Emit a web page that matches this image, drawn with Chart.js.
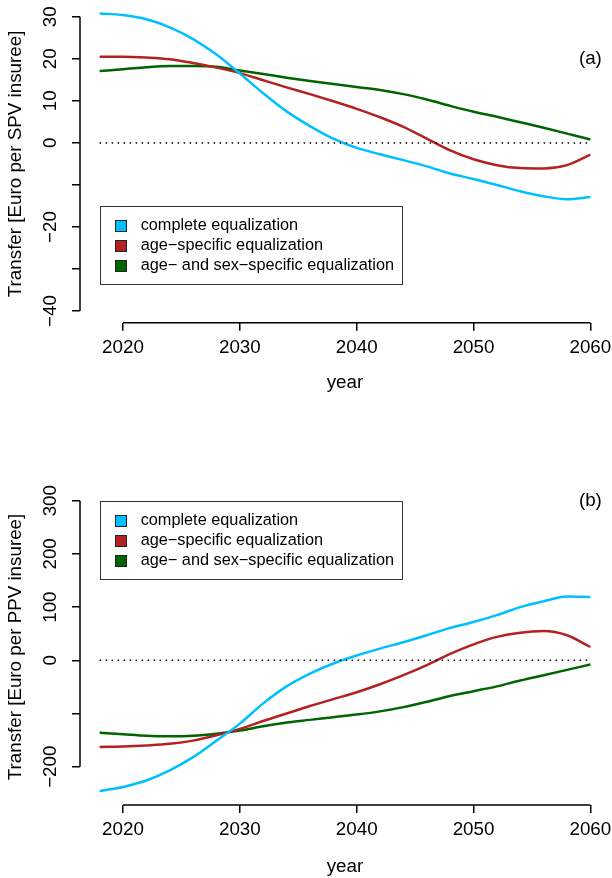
<!DOCTYPE html>
<html>
<head>
<meta charset="utf-8">
<script src="https://cdn.jsdelivr.net/npm/chart.js@4.4.1/dist/chart.umd.min.js"></script>
<style>
body{margin:0;background:#fff;}
canvas{position:absolute;left:0;}
</style>
</head>
<body>
<canvas id="chartA" width="612" height="440" style="top:0px"></canvas>
<canvas id="chartB" width="612" height="438" style="top:440px"></canvas>
<script>
// years of the projection
const years = [2018,2020,2022,2024,2026,2028,2030,2032,2034,2036,2038,2040,2042,2044,2046,2048,2050,2052,2054,2056,2058,2060];

const seriesNames = ['complete equalization', 'age\u2212specific equalization', 'age\u2212 and sex\u2212specific equalization'];
const seriesColors = ['#00BFFF', '#B22222', '#006400'];

// panel (a): Euro per SPV insuree
const completeA = [30.8,30.4,29.4,27.5,24.7,21.0,16.5,11.8,7.5,4.0,1.0,-1.2,-2.7,-4.1,-5.6,-7.3,-8.6,-10.0,-11.5,-12.7,-13.4,-12.9];
const ageA      = [20.5,20.5,20.3,19.9,19.0,17.9,16.6,14.9,13.2,11.6,9.9,8.1,6.1,3.8,1.0,-1.8,-3.9,-5.3,-6.0,-6.1,-5.3,-2.8];
const ageSexA   = [17.1,17.5,18.0,18.3,18.3,18.1,17.2,16.4,15.5,14.7,14.0,13.3,12.6,11.6,10.3,8.8,7.4,6.2,4.9,3.6,2.2,0.8];

// panel (b): Euro per PPV insuree
const completeB = [-246,-238,-226,-207,-182,-151,-119,-81,-49,-25,-6,9,22,34,47,61,72,85,100,111,120,119];
const ageB      = [-163,-162,-160,-157,-151,-141,-129,-114,-100,-86,-73,-60,-45,-28,-9,12,30,44,52,55,47,25];
const ageSexB   = [-136,-139,-142,-143,-142,-138,-132,-124,-117,-112,-107,-102,-96,-88,-78,-67,-58,-49,-38,-28,-18,-8];

const zeroX = [2018, 2060];
const zeroY = [0, 0];

const xTicks = [2020,2030,2040,2050,2060];
const yTicksA = [-40,-30,-20,-10,0,10,20,30];
const yLabelsA = [-40,-20,0,10,20,30];
const yTicksB = [-200,-100,0,100,200,300];
const yLabelsB = [-200,0,100,200,300];

const FONT = '"Liberation Sans", Arial, Helvetica, sans-serif';

function pts(xs, ys){
    return xs.map((x,i)=>({x:x, y:ys[i]}));
}

// R style axes (line only between first and last tick), legend box and panel tag
const rPlot = {
    id: 'rPlot',
    afterDraw(chart, args, o){
        const ctx = chart.ctx;
        const x = chart.scales.x, y = chart.scales.y;
        const yt = o.yTicks;
        ctx.save();
        ctx.strokeStyle = '#000';
        ctx.lineWidth = 1.5;
        ctx.beginPath();
        const bx = chart.chartArea.bottom, lx = chart.chartArea.left;
        ctx.moveTo(x.getPixelForValue(xTicks[0]), bx);
        ctx.lineTo(x.getPixelForValue(xTicks[xTicks.length-1]), bx);
        ctx.moveTo(lx, y.getPixelForValue(yt[0]));
        ctx.lineTo(lx, y.getPixelForValue(yt[yt.length-1]));
        ctx.stroke();

        // panel tag
        ctx.fillStyle = '#000';
        ctx.font = '18.8px ' + FONT;
        ctx.textAlign = 'center';
        ctx.textBaseline = 'middle';
        ctx.fillText(o.tag, x.getPixelForValue(o.tagX), y.getPixelForValue(o.tagY));

        // legend
        const L = x.getPixelForValue(o.legendX), T = y.getPixelForValue(o.legendY);
        ctx.lineWidth = 1;
        ctx.strokeStyle = '#333';
        ctx.strokeRect(Math.round(L)+0.5, Math.round(T)+0.5, 302, 78);
        ctx.font = '16.3px ' + FONT;
        ctx.textAlign = 'left';
        for(let i=0;i<seriesNames.length;i++){
            const cy = T + 19.5 + 20*i;
            ctx.fillStyle = seriesColors[i];
            ctx.fillRect(Math.round(L)+15, Math.round(cy-5.5), 11, 11);
            ctx.strokeStyle = '#222';
            ctx.strokeRect(Math.round(L)+15.5, Math.round(cy-5.5)+0.5, 11, 11);
            ctx.fillStyle = '#000';
            ctx.fillText(seriesNames[i], L+41, cy);
        }
        ctx.restore();
    }
};

function makeChart(id, series, opt){
    const datasets = series.map((s,i)=>({
        label: seriesNames[i],
        data: pts(years, s),
        borderColor: seriesColors[i],
        borderWidth: 2.5,
        pointRadius: 0,
        cubicInterpolationMode: 'monotone',
        fill: false
    }));
    datasets.unshift({
        label: 'zero',
        data: pts(zeroX, zeroY),
        borderColor: '#000',
        borderWidth: 1.5,
        borderDash: [1.5, 4.5],
        pointRadius: 0,
        fill: false
    });
    return new Chart(document.getElementById(id).getContext('2d'), {
        type: 'line',
        data: {datasets: datasets},
        plugins: [rPlot],
        options: {
            responsive: false,
            animation: false,
            devicePixelRatio: 1,
            layout: {padding: {top: opt.top, right: 2, left: 0, bottom: 0}},
            plugins: {
                legend: {display: false},
                tooltip: {enabled: false},
                rPlot: opt.plot
            },
            scales: {
                x: {
                    type: 'linear',
                    min: 2016.32,
                    max: 2061.68,
                    afterBuildTicks: (s)=>{ s.ticks = xTicks.map(v=>({value:v})); },
                    afterFit: (s)=>{ s.height = opt.xHeight; s.paddingLeft = 0; s.paddingRight = 0; },
                    grid: {display: true, drawOnChartArea: false, drawTicks: true, tickLength: 8, color: '#000', lineWidth: 1.5},
                    border: {display: false},
                    ticks: {color: '#000', font: {family: FONT, size: 18.8}, padding: 6, maxRotation: 0, autoSkip: false,
                        callback: (v)=>String(v)},
                    title: {display: true, text: 'year', color: '#000', font: {family: FONT, size: 18.8},
                        padding: {top: 0, bottom: opt.yearPad}}
                },
                y: {
                    type: 'linear',
                    min: opt.ymin,
                    max: opt.ymax,
                    afterBuildTicks: (s)=>{ s.ticks = opt.yTicks.map(v=>({value:v})); },
                    afterFit: (s)=>{ s.width = 80; s.paddingTop = 0; s.paddingBottom = 0; },
                    grid: {display: true, drawOnChartArea: false, drawTicks: true, tickLength: 8, color: '#000', lineWidth: 1.5},
                    border: {display: false},
                    ticks: {color: '#000', font: {family: FONT, size: 18.8}, padding: opt.yPad, minRotation: 90, maxRotation: 90,
                        crossAlign: 'center', autoSkip: false,
                        callback: (v)=> opt.yLabels.includes(v) ? String(v).replace('-', '\u2212') : ''},
                    title: {display: true, text: opt.yTitle, color: '#000', font: {family: FONT, size: 18.8},
                        padding: {top: 4.7, bottom: 0}}
                }
            }
        }
    });
}

makeChart('chartA', [completeA, ageA, ageSexA], {
    top: 5, xHeight: 117.2, yearPad: 45.7, ymin: -42.8, ymax: 32.8, yPad: 5,
    yTicks: yTicksA, yLabels: yLabelsA, yTitle: 'Transfer [Euro per SPV insuree]',
    plot: {yTicks: yTicksA, tag: '(a)', tagX: 2060, tagY: 20, legendX: 2018, legendY: -15}
});

makeChart('chartB', [completeB, ageB, ageSexB], {
    top: 49, xHeight: 73, yearPad: 0, ymin: -272, ymax: 322, yPad: 0,
    yTicks: yTicksB, yLabels: yLabelsB, yTitle: 'Transfer [Euro per PPV insuree]',
    plot: {yTicks: yTicksB, tag: '(b)', tagX: 2060, tagY: 300, legendX: 2018, legendY: 300}
});
</script>
</body>
</html>
